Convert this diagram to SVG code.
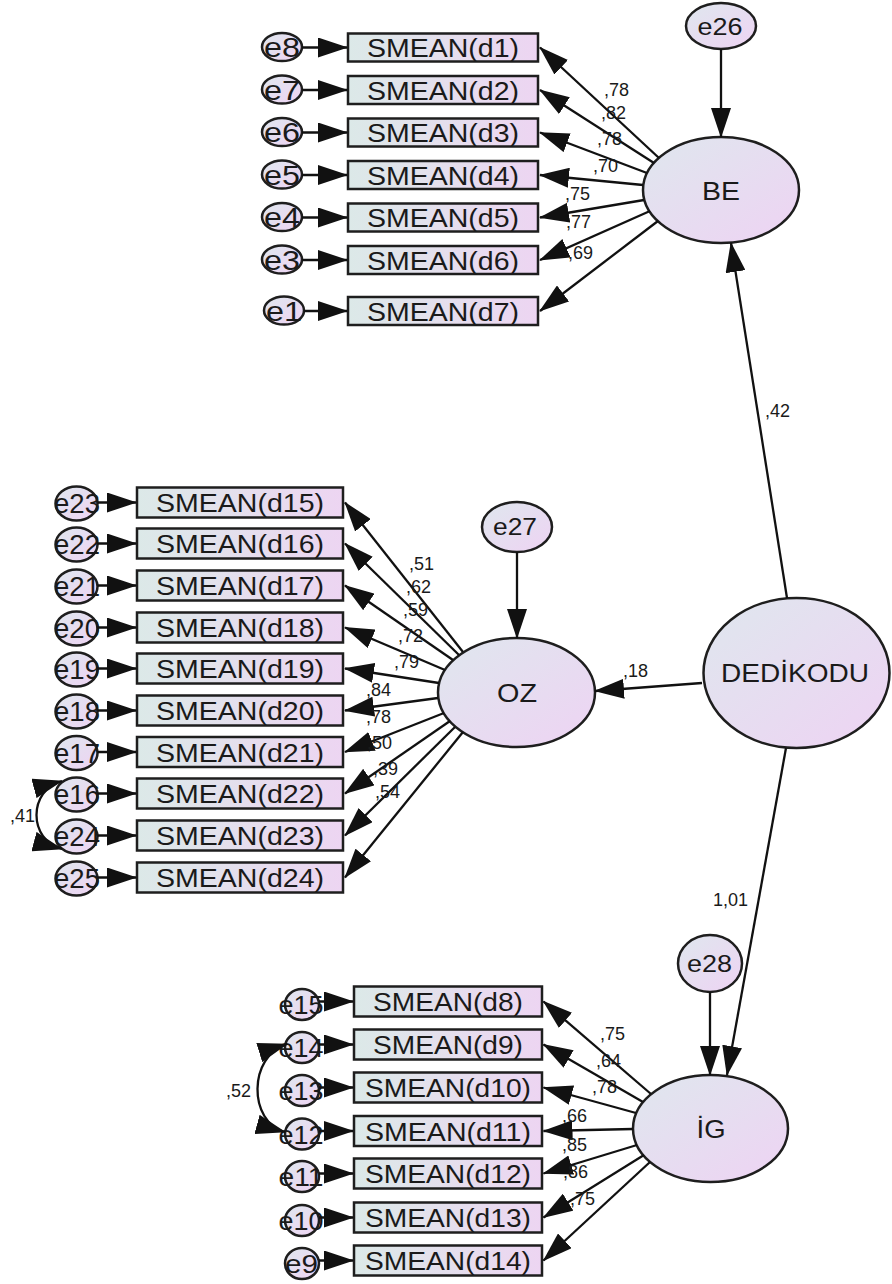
<svg xmlns="http://www.w3.org/2000/svg" width="892" height="1284" viewBox="0 0 892 1284">
  <defs>
    <linearGradient id="gEll" x1="0" y1="0" x2="1" y2="1">
      <stop offset="0" stop-color="#dfe7ee"/>
      <stop offset="1" stop-color="#eed3f3"/>
    </linearGradient>
    <linearGradient id="gBox" x1="0" y1="0" x2="1" y2="0">
      <stop offset="0" stop-color="#dce9e8"/>
      <stop offset="1" stop-color="#edd5f2"/>
    </linearGradient>
    <marker id="ah" markerUnits="userSpaceOnUse" viewBox="0 0 30 20" markerWidth="30" markerHeight="20" refX="29" refY="10" orient="auto-start-reverse">
      <path d="M0,0 L30,10 L0,20 Z" fill="#111"/>
    </marker>
    <style>
      .box { fill: url(#gBox); stroke: #1e1e1e; stroke-width: 2.5; }
      .ell { fill: url(#gEll); stroke: #1e1e1e; stroke-width: 2.5; }
      .t { font-family: "Liberation Sans", Arial, sans-serif; fill: #1a1a1a; text-anchor: middle; }
      .obs { font-size: 25px; }
      .lat { font-size: 25px; }
      .eb { font-size: 28px; }
      .eo { font-size: 27px; }
      .ei { font-size: 26px; }
      .ez { font-size: 24px; }
      .lbl { font-family: "Liberation Sans", Arial, sans-serif; font-size: 18px; fill: #1a1a1a; }
      .c { stroke: #111; stroke-width: 2.3; fill: none; marker-end: url(#ah); }
      .cov { stroke: #111; stroke-width: 2.3; fill: none; marker-start: url(#ah); marker-end: url(#ah); }
    </style>
  </defs>

  <!-- latent variables -->
  <g id="BE"><ellipse class="ell" cx="721" cy="190" rx="78" ry="53"/><text class="t lat" x="721" y="200" textLength="38" lengthAdjust="spacingAndGlyphs">BE</text></g>
  <g id="OZ"><ellipse class="ell" cx="516.5" cy="692.5" rx="78.5" ry="54.5"/><text class="t lat" x="517" y="702" textLength="40" lengthAdjust="spacingAndGlyphs">OZ</text></g>
  <g id="IG"><ellipse class="ell" cx="710.5" cy="1128.5" rx="77.5" ry="53.5"/><text class="t lat" x="711" y="1138" textLength="29" lengthAdjust="spacingAndGlyphs">İG</text></g>
  <g id="DEDIKODU"><ellipse class="ell" cx="796.5" cy="673" rx="93" ry="75"/><text class="t lat" x="795" y="682" textLength="148" lengthAdjust="spacingAndGlyphs">DEDİKODU</text></g>

  <!-- disturbances -->
  <g id="e26"><ellipse class="ell" cx="721" cy="26" rx="35" ry="23"/><text class="t ez" x="720" y="35" textLength="45" lengthAdjust="spacingAndGlyphs">e26</text></g>
  <g id="e27"><ellipse class="ell" cx="517" cy="527" rx="35" ry="25"/><text class="t ez" x="515" y="535" textLength="44" lengthAdjust="spacingAndGlyphs">e27</text></g>
  <g id="e28"><ellipse class="ell" cx="710" cy="963.5" rx="32" ry="28.5"/><text class="t ez" x="709.5" y="972" textLength="45" lengthAdjust="spacingAndGlyphs">e28</text></g>

  <!-- BE indicators -->
  <g id="d1"><rect class="box" x="348" y="33.5" width="190" height="28"/><text class="t obs" x="443" y="57" textLength="152" lengthAdjust="spacingAndGlyphs">SMEAN(d1)</text></g>
  <g id="d2"><rect class="box" x="348" y="76" width="190" height="28"/><text class="t obs" x="443" y="99.5" textLength="152" lengthAdjust="spacingAndGlyphs">SMEAN(d2)</text></g>
  <g id="d3"><rect class="box" x="348" y="118.5" width="190" height="28"/><text class="t obs" x="443" y="142" textLength="152" lengthAdjust="spacingAndGlyphs">SMEAN(d3)</text></g>
  <g id="d4"><rect class="box" x="348" y="161" width="190" height="28"/><text class="t obs" x="443" y="184.5" textLength="152" lengthAdjust="spacingAndGlyphs">SMEAN(d4)</text></g>
  <g id="d5"><rect class="box" x="348" y="203.5" width="190" height="28"/><text class="t obs" x="443" y="227" textLength="152" lengthAdjust="spacingAndGlyphs">SMEAN(d5)</text></g>
  <g id="d6"><rect class="box" x="348" y="246" width="190" height="28"/><text class="t obs" x="443" y="269.5" textLength="152" lengthAdjust="spacingAndGlyphs">SMEAN(d6)</text></g>
  <g id="d7"><rect class="box" x="348" y="297" width="190" height="28"/><text class="t obs" x="443" y="320.5" textLength="152" lengthAdjust="spacingAndGlyphs">SMEAN(d7)</text></g>

  <g id="e8"><ellipse class="ell" cx="282" cy="47" rx="20" ry="14"/><text class="t eb" x="282" y="57" textLength="36" lengthAdjust="spacingAndGlyphs">e8</text></g>
  <g id="e7"><ellipse class="ell" cx="282" cy="89.5" rx="20" ry="14"/><text class="t eb" x="282" y="99.5" textLength="36" lengthAdjust="spacingAndGlyphs">e7</text></g>
  <g id="e6"><ellipse class="ell" cx="282" cy="132" rx="20" ry="14"/><text class="t eb" x="282" y="142" textLength="36" lengthAdjust="spacingAndGlyphs">e6</text></g>
  <g id="e5"><ellipse class="ell" cx="282" cy="174.5" rx="20" ry="14"/><text class="t eb" x="282" y="184.5" textLength="36" lengthAdjust="spacingAndGlyphs">e5</text></g>
  <g id="e4"><ellipse class="ell" cx="282" cy="217" rx="20" ry="14"/><text class="t eb" x="282" y="227" textLength="36" lengthAdjust="spacingAndGlyphs">e4</text></g>
  <g id="e3"><ellipse class="ell" cx="282" cy="259.5" rx="20" ry="14"/><text class="t eb" x="282" y="269.5" textLength="36" lengthAdjust="spacingAndGlyphs">e3</text></g>
  <g id="e1"><ellipse class="ell" cx="284" cy="310.5" rx="20" ry="14"/><text class="t eb" x="284" y="320.5" textLength="36" lengthAdjust="spacingAndGlyphs">e1</text></g>

  <!-- OZ indicators -->
  <g id="d15"><rect class="box" x="137" y="487.5" width="206" height="30"/><text class="t obs" x="240" y="512" textLength="168" lengthAdjust="spacingAndGlyphs">SMEAN(d15)</text></g>
  <g id="d16"><rect class="box" x="137" y="528.5" width="206" height="30"/><text class="t obs" x="240" y="553" textLength="168" lengthAdjust="spacingAndGlyphs">SMEAN(d16)</text></g>
  <g id="d17"><rect class="box" x="137" y="570.5" width="206" height="30"/><text class="t obs" x="240" y="595" textLength="168" lengthAdjust="spacingAndGlyphs">SMEAN(d17)</text></g>
  <g id="d18"><rect class="box" x="137" y="612.5" width="206" height="30"/><text class="t obs" x="240" y="637" textLength="168" lengthAdjust="spacingAndGlyphs">SMEAN(d18)</text></g>
  <g id="d19"><rect class="box" x="137" y="653.5" width="206" height="30"/><text class="t obs" x="240" y="678" textLength="168" lengthAdjust="spacingAndGlyphs">SMEAN(d19)</text></g>
  <g id="d20"><rect class="box" x="137" y="695.5" width="206" height="30"/><text class="t obs" x="240" y="720" textLength="168" lengthAdjust="spacingAndGlyphs">SMEAN(d20)</text></g>
  <g id="d21"><rect class="box" x="137" y="737" width="206" height="30"/><text class="t obs" x="240" y="761.5" textLength="168" lengthAdjust="spacingAndGlyphs">SMEAN(d21)</text></g>
  <g id="d22"><rect class="box" x="137" y="778.5" width="206" height="30"/><text class="t obs" x="240" y="803" textLength="168" lengthAdjust="spacingAndGlyphs">SMEAN(d22)</text></g>
  <g id="d23"><rect class="box" x="137" y="820.5" width="206" height="30"/><text class="t obs" x="240" y="845" textLength="168" lengthAdjust="spacingAndGlyphs">SMEAN(d23)</text></g>
  <g id="d24"><rect class="box" x="137" y="862.5" width="206" height="30"/><text class="t obs" x="240" y="887" textLength="168" lengthAdjust="spacingAndGlyphs">SMEAN(d24)</text></g>

  <g id="e23"><ellipse class="ell" cx="76.5" cy="503.5" rx="21" ry="17"/><text class="t eo" x="77" y="513" textLength="46" lengthAdjust="spacingAndGlyphs">e23</text></g>
  <g id="e22"><ellipse class="ell" cx="76.5" cy="544.5" rx="21" ry="17"/><text class="t eo" x="77" y="554" textLength="46" lengthAdjust="spacingAndGlyphs">e22</text></g>
  <g id="e21"><ellipse class="ell" cx="76.5" cy="586.5" rx="21" ry="17"/><text class="t eo" x="77" y="596" textLength="46" lengthAdjust="spacingAndGlyphs">e21</text></g>
  <g id="e20"><ellipse class="ell" cx="76.5" cy="628.5" rx="21" ry="17"/><text class="t eo" x="77" y="638" textLength="46" lengthAdjust="spacingAndGlyphs">e20</text></g>
  <g id="e19"><ellipse class="ell" cx="76.5" cy="669.5" rx="21" ry="17"/><text class="t eo" x="77" y="679" textLength="46" lengthAdjust="spacingAndGlyphs">e19</text></g>
  <g id="e18"><ellipse class="ell" cx="76.5" cy="711.5" rx="21" ry="17"/><text class="t eo" x="77" y="721" textLength="46" lengthAdjust="spacingAndGlyphs">e18</text></g>
  <g id="e17"><ellipse class="ell" cx="76.5" cy="753" rx="21" ry="17"/><text class="t eo" x="77" y="762.5" textLength="46" lengthAdjust="spacingAndGlyphs">e17</text></g>
  <g id="e16"><ellipse class="ell" cx="76.5" cy="794.5" rx="21" ry="17"/><text class="t eo" x="77" y="804" textLength="46" lengthAdjust="spacingAndGlyphs">e16</text></g>
  <g id="e24"><ellipse class="ell" cx="76.5" cy="836.5" rx="21" ry="17"/><text class="t eo" x="77" y="846" textLength="46" lengthAdjust="spacingAndGlyphs">e24</text></g>
  <g id="e25"><ellipse class="ell" cx="76.5" cy="878.5" rx="21" ry="17"/><text class="t eo" x="77" y="888" textLength="46" lengthAdjust="spacingAndGlyphs">e25</text></g>

  <!-- IG indicators -->
  <g id="d8"><rect class="box" x="354" y="986.5" width="188" height="30"/><text class="t obs" x="448" y="1011" textLength="150" lengthAdjust="spacingAndGlyphs">SMEAN(d8)</text></g>
  <g id="d9"><rect class="box" x="354" y="1029.5" width="188" height="30"/><text class="t obs" x="448" y="1054" textLength="150" lengthAdjust="spacingAndGlyphs">SMEAN(d9)</text></g>
  <g id="d10"><rect class="box" x="354" y="1072.5" width="188" height="30"/><text class="t obs" x="448" y="1097" textLength="166" lengthAdjust="spacingAndGlyphs">SMEAN(d10)</text></g>
  <g id="d11"><rect class="box" x="354" y="1116" width="188" height="30"/><text class="t obs" x="448" y="1140.5" textLength="166" lengthAdjust="spacingAndGlyphs">SMEAN(d11)</text></g>
  <g id="d12"><rect class="box" x="354" y="1158.5" width="188" height="30"/><text class="t obs" x="448" y="1183" textLength="166" lengthAdjust="spacingAndGlyphs">SMEAN(d12)</text></g>
  <g id="d13"><rect class="box" x="354" y="1202.5" width="188" height="30"/><text class="t obs" x="448" y="1227" textLength="166" lengthAdjust="spacingAndGlyphs">SMEAN(d13)</text></g>
  <g id="d14"><rect class="box" x="354" y="1245.5" width="188" height="30"/><text class="t obs" x="448" y="1270" textLength="166" lengthAdjust="spacingAndGlyphs">SMEAN(d14)</text></g>

  <g id="e15"><ellipse class="ell" cx="302" cy="1004.5" rx="17" ry="15.5"/><text class="t ei" x="301" y="1014" textLength="45" lengthAdjust="spacingAndGlyphs">e15</text></g>
  <g id="e14"><ellipse class="ell" cx="302" cy="1047.5" rx="17" ry="15.5"/><text class="t ei" x="301" y="1057" textLength="45" lengthAdjust="spacingAndGlyphs">e14</text></g>
  <g id="e13"><ellipse class="ell" cx="302" cy="1090.5" rx="17" ry="15.5"/><text class="t ei" x="301" y="1100" textLength="45" lengthAdjust="spacingAndGlyphs">e13</text></g>
  <g id="e12"><ellipse class="ell" cx="302" cy="1134" rx="17" ry="15.5"/><text class="t ei" x="301" y="1143.5" textLength="45" lengthAdjust="spacingAndGlyphs">e12</text></g>
  <g id="e11"><ellipse class="ell" cx="302" cy="1176.5" rx="17" ry="15.5"/><text class="t ei" x="301" y="1186" textLength="45" lengthAdjust="spacingAndGlyphs">e11</text></g>
  <g id="e10"><ellipse class="ell" cx="302" cy="1220.5" rx="17" ry="15.5"/><text class="t ei" x="301" y="1230" textLength="45" lengthAdjust="spacingAndGlyphs">e10</text></g>
  <g id="e9"><ellipse class="ell" cx="302" cy="1263.5" rx="17" ry="15.5"/><text class="t ei" x="301.5" y="1273" textLength="33" lengthAdjust="spacingAndGlyphs">e9</text></g>

  <!-- paths, covariances and estimates -->
  <g id="connectors">
    <!-- structural paths -->
    <line class="c" x1="787" y1="598" x2="731" y2="243"/>
    <line class="c" x1="702" y1="683" x2="595" y2="691"/>
    <line class="c" x1="786" y1="748" x2="727" y2="1075"/>
    <line class="c" x1="721" y1="49" x2="721" y2="137"/>
    <line class="c" x1="517" y1="552" x2="517" y2="638"/>
    <line class="c" x1="710" y1="992" x2="710" y2="1075"/>

    <!-- BE loadings -->
    <line class="c" x1="659" y1="158" x2="540" y2="47.5"/>
    <line class="c" x1="654" y1="163" x2="540" y2="90"/>
    <line class="c" x1="647" y1="173" x2="540" y2="132.5"/>
    <line class="c" x1="643" y1="185" x2="540" y2="175"/>
    <line class="c" x1="644" y1="200" x2="540" y2="217.5"/>
    <line class="c" x1="650" y1="211" x2="540" y2="260"/>
    <line class="c" x1="658" y1="221" x2="540" y2="311"/>

    <!-- BE errors -->
    <line class="c" x1="302" y1="47.5" x2="347" y2="47.5"/>
    <line class="c" x1="302" y1="90" x2="347" y2="90"/>
    <line class="c" x1="302" y1="132.5" x2="347" y2="132.5"/>
    <line class="c" x1="302" y1="175" x2="347" y2="175"/>
    <line class="c" x1="302" y1="217.5" x2="347" y2="217.5"/>
    <line class="c" x1="302" y1="260" x2="347" y2="260"/>
    <line class="c" x1="304" y1="311" x2="347" y2="311"/>

    <!-- OZ loadings -->
    <line class="c" x1="463" y1="652" x2="345" y2="502.5"/>
    <line class="c" x1="459" y1="655" x2="345" y2="543.5"/>
    <line class="c" x1="453" y1="660" x2="345" y2="585.5"/>
    <line class="c" x1="445" y1="670" x2="345" y2="627.5"/>
    <line class="c" x1="439" y1="683" x2="345" y2="668.5"/>
    <line class="c" x1="438" y1="698" x2="345" y2="710.5"/>
    <line class="c" x1="444" y1="713" x2="345" y2="752"/>
    <line class="c" x1="450" y1="721" x2="345" y2="793.5"/>
    <line class="c" x1="455" y1="727" x2="345" y2="835.5"/>
    <line class="c" x1="463" y1="732" x2="345" y2="877.5"/>

    <!-- OZ errors -->
    <line class="c" x1="97.5" y1="502.5" x2="136" y2="502.5"/>
    <line class="c" x1="97.5" y1="543.5" x2="136" y2="543.5"/>
    <line class="c" x1="97.5" y1="585.5" x2="136" y2="585.5"/>
    <line class="c" x1="97.5" y1="627.5" x2="136" y2="627.5"/>
    <line class="c" x1="97.5" y1="668.5" x2="136" y2="668.5"/>
    <line class="c" x1="97.5" y1="710.5" x2="136" y2="710.5"/>
    <line class="c" x1="97.5" y1="752" x2="136" y2="752"/>
    <line class="c" x1="97.5" y1="793.5" x2="136" y2="793.5"/>
    <line class="c" x1="97.5" y1="835.5" x2="136" y2="835.5"/>
    <line class="c" x1="97.5" y1="877.5" x2="136" y2="877.5"/>

    <!-- IG loadings -->
    <line class="c" x1="651" y1="1094" x2="543.5" y2="1001.5"/>
    <line class="c" x1="643" y1="1102" x2="543.5" y2="1044.5"/>
    <line class="c" x1="636" y1="1113" x2="543.5" y2="1087.5"/>
    <line class="c" x1="633" y1="1129" x2="543.5" y2="1131"/>
    <line class="c" x1="637" y1="1145" x2="543.5" y2="1173.5"/>
    <line class="c" x1="644" y1="1155" x2="543.5" y2="1217.5"/>
    <line class="c" x1="650" y1="1162" x2="543.5" y2="1260.5"/>

    <!-- IG errors -->
    <line class="c" x1="319" y1="1001.5" x2="353" y2="1001.5"/>
    <line class="c" x1="319" y1="1044.5" x2="353" y2="1044.5"/>
    <line class="c" x1="319" y1="1087.5" x2="353" y2="1087.5"/>
    <line class="c" x1="319" y1="1131" x2="353" y2="1131"/>
    <line class="c" x1="319" y1="1173.5" x2="353" y2="1173.5"/>
    <line class="c" x1="319" y1="1217.5" x2="353" y2="1217.5"/>
    <line class="c" x1="319" y1="1260.5" x2="353" y2="1260.5"/>

    <!-- error covariances -->
    <path class="cov" d="M62,781 C28,790 28,840 62,849"/>
    <path class="cov" d="M287,1044 C248,1056 248,1122 285,1132"/>

    <!-- estimates -->
    <text class="lbl" x="765" y="417">,42</text>
    <text class="lbl" x="623" y="677">,18</text>
    <text class="lbl" x="713" y="906">1,01</text>
    <text class="lbl" x="10" y="822">,41</text>
    <text class="lbl" x="226" y="1097">,52</text>

    <text class="lbl" x="604" y="96">,78</text>
    <text class="lbl" x="601" y="119">,82</text>
    <text class="lbl" x="597" y="145">,78</text>
    <text class="lbl" x="593" y="172">,70</text>
    <text class="lbl" x="565" y="200">,75</text>
    <text class="lbl" x="566" y="228">,77</text>
    <text class="lbl" x="568" y="259">,69</text>

    <text class="lbl" x="409" y="570">,51</text>
    <text class="lbl" x="406" y="593">,62</text>
    <text class="lbl" x="403" y="616">,59</text>
    <text class="lbl" x="398" y="642">,72</text>
    <text class="lbl" x="394" y="668">,79</text>
    <text class="lbl" x="366" y="696">,84</text>
    <text class="lbl" x="366" y="723">,78</text>
    <text class="lbl" x="367" y="749">,50</text>
    <text class="lbl" x="373" y="775">,39</text>
    <text class="lbl" x="375" y="798">,54</text>

    <text class="lbl" x="600" y="1040">,75</text>
    <text class="lbl" x="596" y="1067">,64</text>
    <text class="lbl" x="592" y="1093">,78</text>
    <text class="lbl" x="562" y="1122">,66</text>
    <text class="lbl" x="562" y="1151">,85</text>
    <text class="lbl" x="563" y="1178">,86</text>
    <text class="lbl" x="570" y="1205">,75</text>
  </g>
</svg>
